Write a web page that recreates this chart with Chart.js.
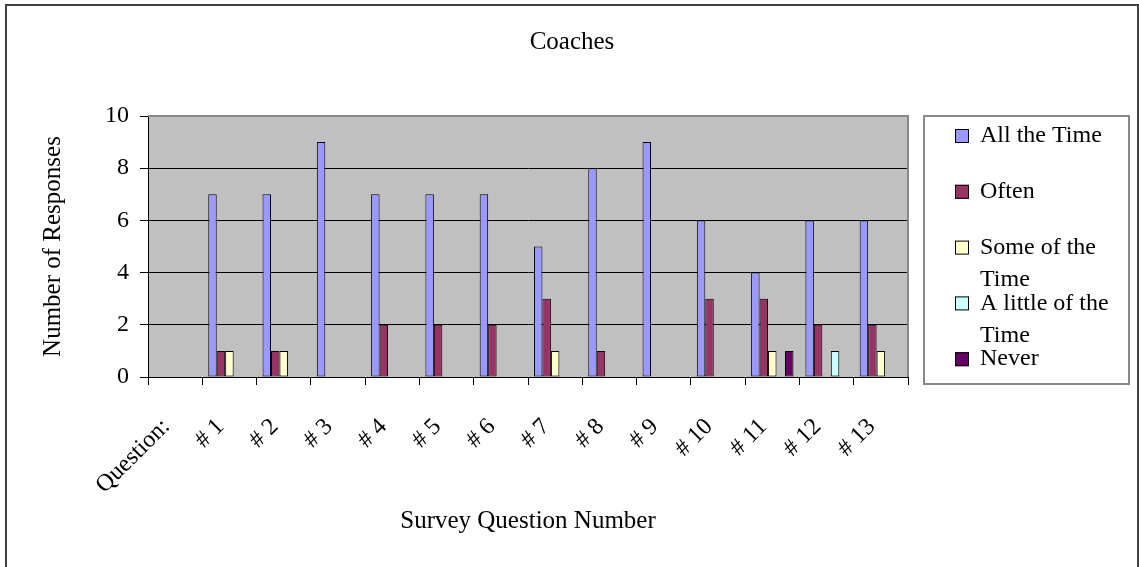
<!DOCTYPE html>
<html>
<head>
<meta charset="utf-8">
<title>Coaches</title>
<script src="https://cdn.jsdelivr.net/npm/chart.js@4.4.0/dist/chart.umd.min.js"></script>
<style>
  html, body { margin: 0; padding: 0; background: #fff; }
  #wrap { width: 1139px; height: 567px; }
</style>
</head>
<body>
<div id="wrap"><canvas id="chartCoaches" width="1139" height="567"></canvas></div>
<script>
// survey answers per question (number of coaches)
let questions = ['Question:', '# 1', '# 2', '# 3', '# 4', '# 5', '# 6', '# 7', '# 8', '# 9', '# 10', '# 11', '# 12', '# 13'];
let allTheTime    = [0, 7, 7, 9, 7, 7, 7, 5, 8, 9, 6, 4, 6, 6];
let often         = [0, 1, 1, 0, 2, 2, 2, 3, 1, 0, 3, 3, 2, 2];
let someOfTheTime = [0, 1, 1, 0, 0, 0, 0, 1, 0, 0, 0, 1, 0, 1];
let aLittleOfTime = [0, 0, 0, 0, 0, 0, 0, 0, 0, 0, 0, 0, 1, 0];
let never         = [0, 0, 0, 0, 0, 0, 0, 0, 0, 0, 0, 1, 0, 0];

let seriesNames  = ['All the Time', 'Often', 'Some of the Time', 'A little of the Time', 'Never'];
let seriesData   = [allTheTime, often, someOfTheTime, aLittleOfTime, never];
let seriesColors = ['#9999ff', '#993366', '#ffffcc', '#ccffff', '#660066'];

let yTicks = [0, 2, 4, 6, 8, 10];

(() => {

  const serif = '"Liberation Serif", "Times New Roman", serif';
  Chart.defaults.font.family = serif;
  Chart.defaults.font.size = 24;
  Chart.defaults.color = '#000';

  // grey plot background, frame, title and the boxed legend on the right
  const frame = {
    id: 'frame',
    beforeDraw(chart) {
      const { ctx, chartArea: a } = chart;
      ctx.save();
      ctx.fillStyle = '#fff';
      ctx.fillRect(0, 0, chart.width, chart.height);
      ctx.fillStyle = '#c0c0c0';
      ctx.fillRect(a.left, a.top, a.right - a.left, a.bottom - a.top);
      ctx.restore();
    },
    afterDraw(chart) {
      const { ctx, chartArea: a } = chart;
      ctx.save();

      // plot border top / right
      ctx.strokeStyle = '#888';
      ctx.lineWidth = 2;
      ctx.beginPath();
      ctx.moveTo(a.left, a.top);
      ctx.lineTo(a.right, a.top);
      ctx.lineTo(a.right, a.bottom);
      ctx.stroke();

      // outer frame
      ctx.fillStyle = '#404040';
      ctx.fillRect(5, 4, 2, chart.height);
      ctx.fillRect(5, 4, chart.width - 5, 2);
      ctx.fillRect(chart.width - 2, 4, 2, chart.height);

      // title
      ctx.fillStyle = '#000';
      ctx.font = '25px ' + serif;
      ctx.textAlign = 'center';
      ctx.textBaseline = 'middle';
      ctx.fillText('Coaches', 572, 42);

      // legend box
      const lx = 924, ly = 116, lw = 205, lh = 268;
      ctx.strokeStyle = '#888';
      ctx.lineWidth = 2;
      ctx.strokeRect(lx, ly, lw, lh);

      ctx.font = '24px ' + serif;
      ctx.textAlign = 'left';
      const textX = lx + 56, maxW = 140, rowGap = 55.8, lineGap = 32.5;
      chart.data.datasets.forEach((ds, i) => {
        const y = ly + 20 + i * rowGap;
        ctx.fillStyle = ds.backgroundColor;
        ctx.fillRect(lx + 31, y - 7, 14, 14);
        ctx.strokeStyle = '#000';
        ctx.lineWidth = 1;
        ctx.strokeRect(lx + 31.5, y - 6.5, 13, 13);

        // wrap long labels onto two lines
        const words = ds.label.split(' ');
        let lines = [], cur = '';
        words.forEach(w => {
          const test = cur ? cur + ' ' + w : w;
          if (ctx.measureText(test).width > maxW && cur) {
            lines.push(cur);
            cur = w;
          } else {
            cur = test;
          }
        });
        lines.push(cur);
        ctx.fillStyle = '#000';
        lines.forEach((t, k) => ctx.fillText(t, textX, y + k * lineGap));
      });

      ctx.restore();
    }
  };

  const ctx = document.getElementById('chartCoaches').getContext('2d');

  new Chart(ctx, {
    type: 'bar',
    data: {
      labels: questions,
      datasets: seriesNames.map((name, i) => ({
        label: name,
        data: seriesData[i],
        backgroundColor: seriesColors[i],
        borderColor: '#000',
        borderWidth: 1,
        borderSkipped: false,
        barPercentage: 1,
        categoryPercentage: 0.78
      }))
    },
    options: {
      responsive: false,
      animation: false,
      layout: {
        padding: { left: 8, top: 116, right: 231, bottom: 20 }
      },
      plugins: {
        legend: { display: false },
        title: { display: false },
        tooltip: { enabled: false }
      },
      scales: {
        x: {
          afterFit: s => { s.height = 170; },
          grid: {
            display: true,
            drawOnChartArea: false,
            offset: true,
            tickLength: 8,
            tickColor: '#000'
          },
          border: { color: '#000', width: 1 },
          ticks: {
            autoSkip: false,
            minRotation: 45,
            maxRotation: 45,
            padding: 28,
            labelOffset: -9
          },
          title: {
            display: true,
            text: 'Survey Question Number',
            font: { size: 25 },
            padding: { top: 0, bottom: 11 }
          }
        },
        y: {
          min: 0,
          max: 10,
          afterFit: s => { s.width = 140; },
          afterBuildTicks: s => { s.ticks = yTicks.map(v => ({ value: v })); },
          grid: {
            color: c => (c.tick && c.tick.value === 10 ? '#888' : '#000'),
            tickLength: 8,
            tickColor: '#000'
          },
          border: { color: '#000', width: 1 },
          ticks: { padding: 11 },
          title: {
            display: true,
            text: 'Number of Responses',
            font: { size: 25 },
            padding: { top: 30, bottom: 0 }
          }
        }
      }
    },
    plugins: [frame]
  });

})();
</script>
</body>
</html>
